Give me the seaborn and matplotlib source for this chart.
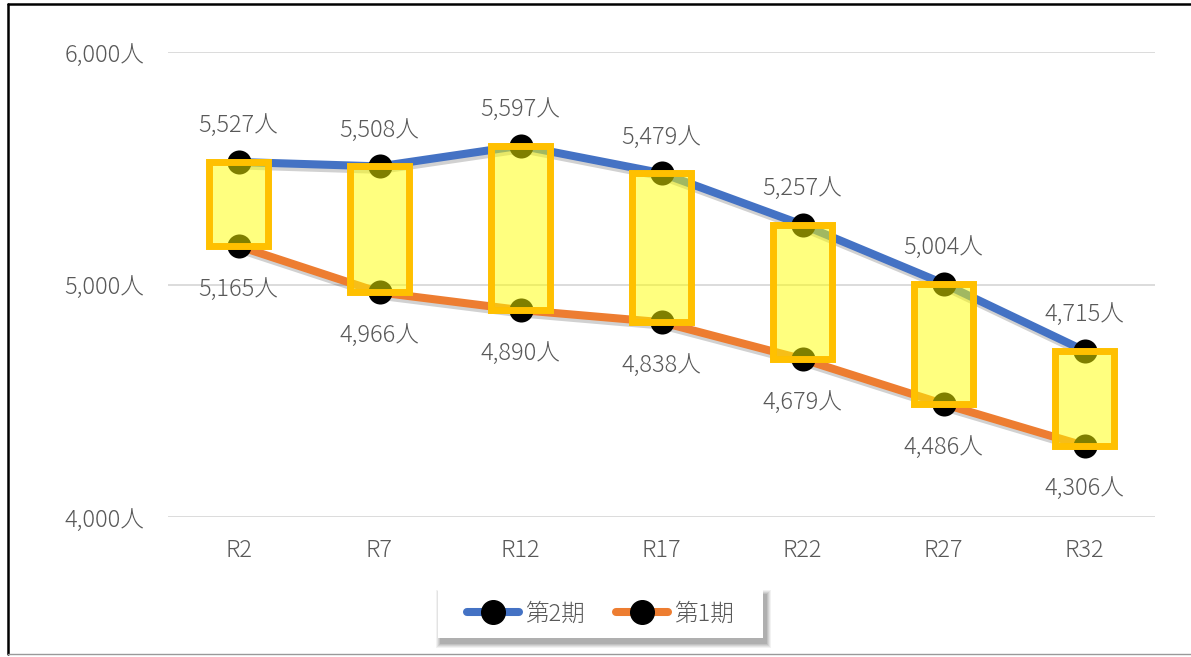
import numpy as np
import pandas as pd
import matplotlib
matplotlib.use("Agg")
import matplotlib.pyplot as plt
import matplotlib.patheffects as pe
from matplotlib.lines import Line2D
from matplotlib.patches import Rectangle
import seaborn as sns

# 将来人口の推計（第1期・第2期）
categories = ["R2", "R7", "R12", "R17", "R22", "R27", "R32"]
phase2 = [5527, 5508, 5597, 5479, 5257, 5004, 4715]
phase1 = [5165, 4966, 4890, 4838, 4679, 4486, 4306]
series_names = ["第2期", "第1期"]
y_ticks = [4000, 5000, 6000]

sns.set_theme(style="white")
plt.rcParams["font.family"] = ["Noto Sans CJK JP", "DejaVu Sans"]
plt.rcParams["font.weight"] = "light"

TEXT = "#595959"
BLUE = "#4472C4"
ORANGE = "#ED7D31"
GOLD = "#FFC000"
FS = 17

W, H, DPI = 1191, 657, 100
fig = plt.figure(figsize=(W / DPI, H / DPI), dpi=DPI)
ax = fig.add_axes([168 / W, (H - 517) / H, (1155 - 168) / W, (517 - 52) / H])

pos = np.arange(len(categories))
df = pd.DataFrame({"pos": pos, series_names[0]: phase2, series_names[1]: phase1})

shadow = [pe.SimpleLineShadow(offset=(1.0, -2.5), shadow_color="black", alpha=0.18), pe.Normal()]
for name, color in zip(series_names, [BLUE, ORANGE]):
    sns.lineplot(data=df, x="pos", y=name, color=color, ax=ax, linewidth=5.8,
                 solid_capstyle="round", sort=False, zorder=2, path_effects=shadow)
    sns.scatterplot(data=df, x="pos", y=name, color="black", s=300, linewidth=0,
                    ax=ax, zorder=2.5)

# up/down bars spanning the two periods
low = np.array(phase1)
high = np.array(phase2)
ax.bar(pos, high - low, bottom=low, width=0.42, facecolor=(1, 1, 0, 0.5),
       edgecolor=GOLD, linewidth=5.0, zorder=3)

# value labels
for x, v in zip(pos, phase2):
    ax.annotate(f"{v:,}人", (x, v), xytext=(0, 26), textcoords="offset points",
                ha="center", va="center", fontsize=FS, color=TEXT, zorder=5)
for x, v in zip(pos, phase1):
    ax.annotate(f"{v:,}人", (x, v), xytext=(0, -31), textcoords="offset points",
                ha="center", va="center", fontsize=FS, color=TEXT, zorder=5)

ax.set_xlim(-0.5, len(categories) - 0.5)
ax.set_ylim(y_ticks[0], y_ticks[-1])
ax.set_yticks(y_ticks)
ax.set_yticklabels([f"{t:,}人" for t in y_ticks])
ax.set_xticks(pos)
ax.set_xticklabels(categories)
ax.tick_params(axis="y", length=0, pad=17, labelsize=FS, labelcolor=TEXT)
ax.tick_params(axis="x", length=0, pad=15, labelsize=FS, labelcolor=TEXT)
ax.grid(axis="y", color="#D9D9D9", linewidth=1.3)
ax.set_axisbelow(True)
ax.set_xlabel("")
ax.set_ylabel("")
for s in ax.spines.values():
    s.set_visible(False)

# legend box with a soft drop shadow
bx0, bx1, by0, by1 = 438, 763, 590, 638
for i, a in enumerate([0.05, 0.06, 0.07, 0.08, 0.09]):
    g = 5 - i
    fig.add_artist(Rectangle(((bx0 + 3 - g) / W, (H - by1 - 5 - g) / H),
                             (bx1 - bx0 + 2 * g) / W, (by1 - by0 + 2 * g) / H,
                             facecolor="black", alpha=a, linewidth=0, zorder=0.5))
fig.add_artist(Rectangle((bx0 / W, (H - by1) / H), (bx1 - bx0) / W, (by1 - by0) / H,
                         facecolor="white", linewidth=0, zorder=0.6))

handles = [Line2D([], [], color=c, linewidth=5.8, solid_capstyle="round", marker="o",
                  markersize=17, markerfacecolor="black", markeredgecolor="black")
           for c in (BLUE, ORANGE)]
leg = fig.legend(handles, series_names, loc="center",
                 bbox_to_anchor=((bx0 + bx1) / 2 / W, (H - (by0 + by1) / 2) / H),
                 ncol=2, frameon=False, fontsize=FS, handlelength=2.2, handletextpad=0.25,
                 columnspacing=1.35)
for t in leg.get_texts():
    t.set_color(TEXT)

# outer chart frame
fig.add_artist(Line2D([8 / W, 1], [(H - 4) / H] * 2, color="black", linewidth=1.8))
fig.add_artist(Line2D([8 / W] * 2, [(H - 4) / H, 3 / H], color="black", linewidth=1.8))
fig.add_artist(Line2D([8 / W, 1], [3 / H] * 2, color="#999999", linewidth=1.0))

fig.savefig("out.png", dpi=DPI)
